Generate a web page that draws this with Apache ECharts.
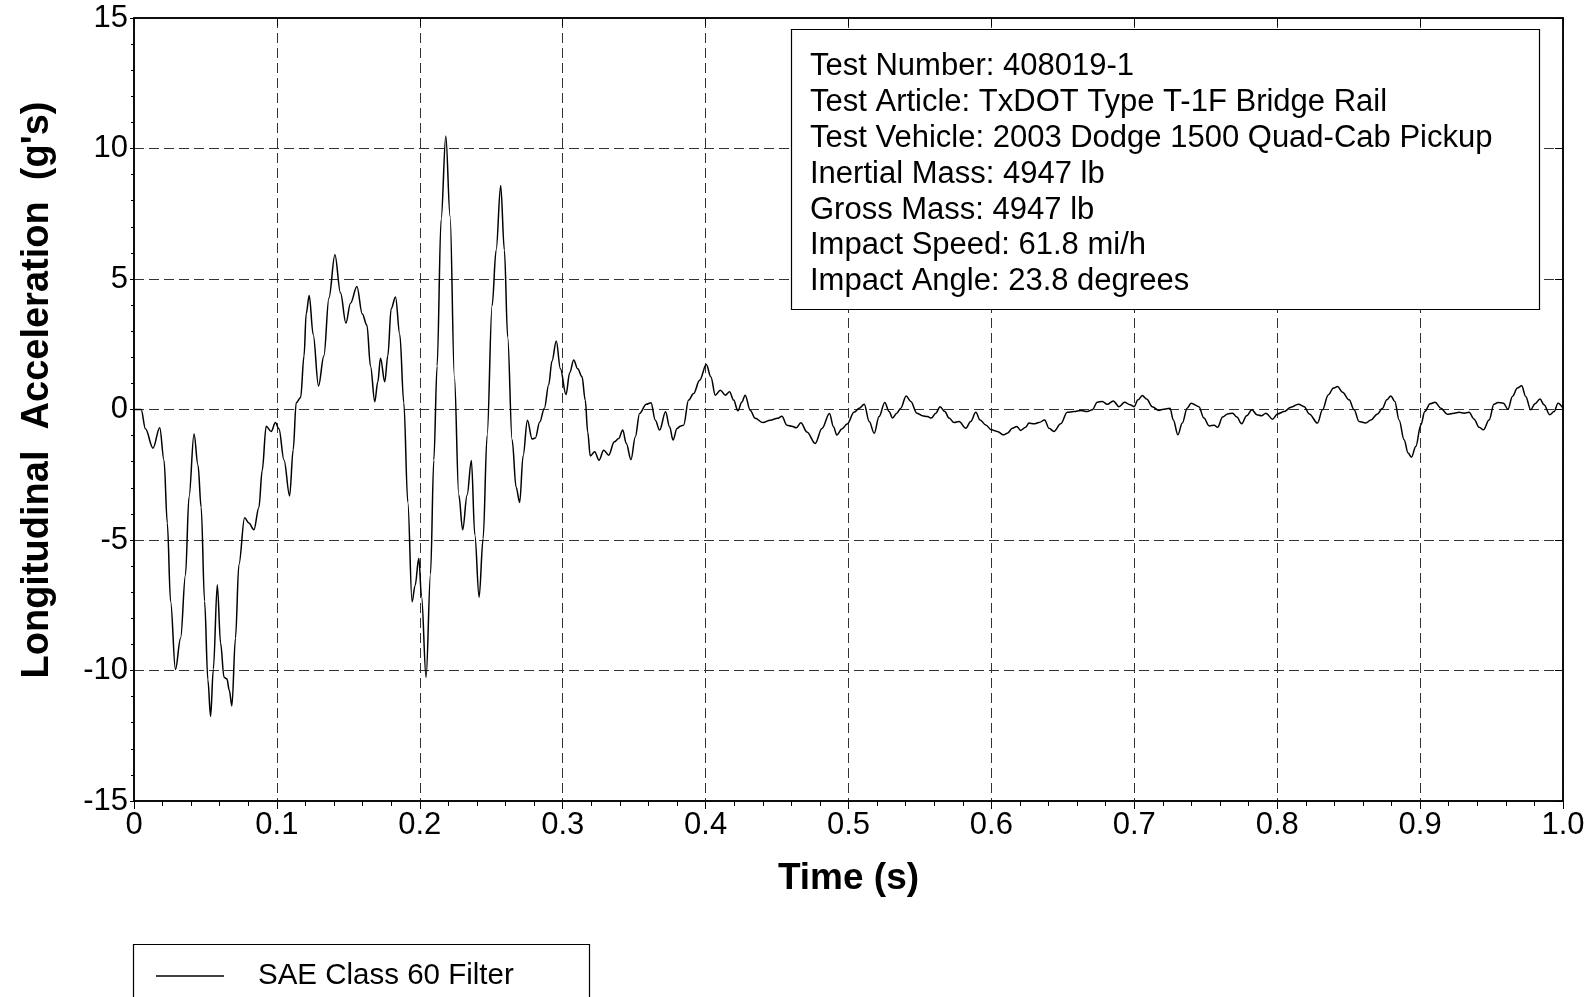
<!DOCTYPE html>
<html>
<head>
<meta charset="utf-8">
<script src="https://cdn.jsdelivr.net/npm/echarts@6/dist/echarts.min.js"></script>
<style>
html,body{margin:0;padding:0;background:#fff;}
#chart{width:1594px;height:997px;}
</style>
</head>
<body>
<div id="chart"></div>
<script>
// ---- data (time in s, longitudinal acceleration in g's) ----
var timeS = [
0,0.005,0.008,0.0133,0.018,0.021,0.0233,0.0256,0.029,0.0326,0.036,0.0385,0.042,0.0448,0.047,0.0494,0.0517,0.0536,0.0555,0.0583,
0.0606,0.063,0.065,0.0667,0.0685,0.071,0.0734,0.0774,0.0804,0.0839,0.0874,0.0897,0.0925,0.096,0.099,0.1014,0.105,0.1089,0.1114,0.1135,
0.1166,0.119,0.1205,0.1226,0.1254,0.1291,0.1329,0.1364,0.1406,0.1445,0.1483,0.1515,0.156,0.1597,0.163,0.1655,0.1685,0.1706,0.1725,0.1755,
0.1776,0.18,0.183,0.186,0.1888,0.1916,0.1946,0.1967,0.1993,0.2012,0.2044,0.2075,0.2098,0.2121,0.2149,0.2182,0.2212,0.2242,0.2273,0.23,
0.2331,0.2361,0.2385,0.2415,0.2443,0.2471,0.2506,0.2534,0.2566,0.2592,0.2615,0.2646,0.2674,0.2699,0.2723,0.2753,0.2786,0.2809,0.2839,0.2872,
0.2902,0.2925,0.2955,0.2984,0.3023,0.3049,0.3077,0.3105,0.3135,0.3158,0.3175,0.3193,0.3224,0.3254,0.3287,0.3322,0.3361,0.3392,0.342,0.3445,
0.3478,0.3508,0.3538,0.3585,0.3618,0.3648,0.3678,0.372,0.3748,0.3772,0.38,0.3823,0.3846,0.3881,0.3916,0.3958,0.4005,0.4037,0.4068,0.4103,
0.4138,0.4168,0.4196,0.4226,0.4254,0.4277,0.4312,0.4347,0.4401,0.4452,0.4503,0.4534,0.4569,0.4604,0.4634,0.4667,0.4709,0.4767,0.4814,0.4867,
0.4895,0.4918,0.4953,0.499,0.504,0.5075,0.511,0.5145,0.518,0.5214,0.5254,0.5284,0.5308,0.5338,0.5366,0.5403,0.5436,0.5478,0.5517,0.5552,
0.558,0.5611,0.5641,0.5674,0.5704,0.5739,0.5774,0.5821,0.5855,0.5891,0.5921,0.596,0.6,0.6042,0.6084,0.6112,0.6147,0.6177,0.6205,0.624,
0.6263,0.6298,0.6333,0.6373,0.6403,0.6438,0.6485,0.6531,0.6578,0.6625,0.6671,0.6706,0.6741,0.6776,0.6811,0.6853,0.6893,0.6932,0.697,0.6998,
0.7026,0.7056,0.7086,0.7126,0.7172,0.7203,0.725,0.7273,0.7305,0.7336,0.737,0.7398,0.7452,0.7487,0.7524,0.7559,0.7583,0.7618,0.7653,0.7688,
0.7718,0.7751,0.7786,0.7823,0.7858,0.789,0.7921,0.7967,0.8002,0.8049,0.8096,0.8149,0.8189,0.8224,0.8282,0.8317,0.8357,0.8394,0.8422,0.8457,
0.8503,0.8538,0.8573,0.862,0.8655,0.8702,0.8737,0.8767,0.8795,0.8823,0.8853,0.8888,0.8916,0.8939,0.897,0.9005,0.9033,0.907,0.9105,0.9145,
0.9191,0.9238,0.9273,0.9308,0.9343,0.9378,0.9413,0.9443,0.9483,0.9517,0.9545,0.9583,0.9615,0.9646,0.9681,0.9711,0.9739,0.9774,0.9804,0.9839,
0.9867,0.9907,0.9937,0.9965,1.0
];
var accelG = [
0,0,-0.74,-1.48,-0.7,-1.94,-4.35,-7.35,-9.96,-8.76,-6.35,-3.35,-0.94,-2.14,-3.75,-7.35,-10.36,-11.76,-9.96,-6.71,
-8.96,-10.26,-10.32,-10.76,-11.36,-8.76,-5.95,-4.15,-4.35,-4.61,-3.75,-2.34,-0.64,-0.84,-0.5,-0.74,-1.94,-3.31,-1.54,0.26,
0.46,2.06,3.67,4.37,2.87,0.9,2.06,4.27,5.93,4.47,3.31,4.07,4.71,3.67,3.23,1.66,0.3,1.06,1.96,1.06,
2.06,3.87,4.31,2.87,0.26,-3.55,-7.37,-6.75,-5.7,-7.15,-10.27,-6.3,-1.94,1.66,7.27,10.48,7.4,1.26,-3.28,-4.61,
-3.28,-1.95,-4.8,-7.19,-4.95,-1.0,3.98,6.1,8.58,6.1,2.77,-1.16,-2.98,-3.56,-1.77,-0.41,-1.13,-1.09,-0.48,0.05,
0.95,1.86,2.62,1.56,0.57,1.41,1.9,1.56,1.26,0.35,-0.86,-1.78,-1.62,-1.94,-1.56,-1.75,-1.24,-1.11,-0.79,-1.3,
-1.92,-1.05,-0.15,0.2,0.26,-0.41,-0.79,-0.09,-0.66,-1.17,-0.73,-0.64,-0.6,0.36,0.61,1.12,1.72,1.25,0.55,0.74,
0.55,0.68,0.36,-0.05,0.29,0.55,-0.03,-0.34,-0.5,-0.41,-0.34,-0.26,-0.6,-0.64,-0.7,-0.51,-0.86,-1.3,-0.73,-0.15,
-0.66,-0.98,-0.75,-0.56,-0.1,0.05,0.2,-0.46,-0.91,-0.27,0.27,-0.08,-0.33,-0.14,0.05,0.52,0.31,-0.14,-0.24,-0.27,
-0.33,-0.14,0.11,-0.08,-0.33,-0.5,-0.46,-0.72,-0.46,-0.11,-0.4,-0.59,-0.78,-0.84,-0.97,-0.91,-0.72,-0.65,-0.8,-0.68,
-0.52,-0.55,-0.5,-0.4,-0.72,-0.84,-0.55,-0.11,-0.08,-0.04,-0.08,-0.01,0.28,0.31,0.2,0.33,0.11,0.28,0.18,0.11,
0.37,0.54,0.4,0.11,-0.04,0.01,0.05,-0.4,-0.97,-0.52,0.05,0.24,0.11,-0.33,-0.63,-0.6,-0.68,-0.29,-0.17,-0.14,
-0.29,-0.55,-0.24,-0.01,-0.2,-0.24,-0.14,-0.37,-0.17,-0.08,0.09,0.2,0.11,-0.17,-0.52,-0.01,0.56,0.82,0.88,0.66,
0.37,-0.01,-0.46,-0.52,-0.4,-0.17,0.05,0.37,0.52,0.31,-0.4,-1.16,-1.67,-1.83,-1.42,-0.59,-0.08,0.22,0.28,0.05,
-0.18,-0.14,-0.11,-0.14,-0.11,-0.37,-0.68,-0.78,-0.4,0.2,0.27,0.24,0.01,0.5,0.82,0.91,0.5,-0.01,0.22,0.4,
0.18,-0.2,-0.08,0.24,0.05
];
var seriesName = 'SAE Class 60 Filter';
var xAxisTitle = 'Time (s)';
var yAxisTitle = "Longitudinal  Acceleration  (g's)";
var infoLines = [
  'Test Number: 408019-1',
  'Test Article: TxDOT Type T-1F Bridge Rail',
  'Test Vehicle: 2003 Dodge 1500 Quad-Cab Pickup',
  'Inertial Mass: 4947 lb',
  'Gross Mass: 4947 lb',
  'Impact Speed: 61.8 mi/h',
  'Impact Angle: 23.8 degrees'
];

var FONT = "'Liberation Sans', Arial, sans-serif";
var pts = timeS.map(function (t, i) { return [t, accelG[i]]; });

var chart = echarts.init(document.getElementById('chart'), null, {renderer: 'canvas'});
var gridDash = {color: '#333', width: 1, type: [10, 5]};

chart.setOption({
  animation: false,
  backgroundColor: '#fff',
  grid: {left: 134, right: 31, top: 18, bottom: 196, show: true, borderColor: '#000', borderWidth: 1.5, backgroundColor: 'transparent'},
  legend: {
    left: 156, top: 960, padding: 0,
    itemWidth: 68, itemHeight: 1.5,
    data: [{name: seriesName, icon: 'rect'}],
    itemStyle: {color: '#000', borderWidth: 0},
    textStyle: {fontFamily: FONT, fontSize: 29.5, color: '#000', lineHeight: 32, padding: [0, 0, 0, 29]}
  },
  xAxis: [{
    type: 'value', min: 0, max: 1, interval: 0.1,
    axisLine: {show: true, onZero: false, lineStyle: {color: '#000', width: 1.5}},
    axisTick: {show: true, inside: false, length: 8, lineStyle: {color: '#000', width: 1}},
    minorTick: {show: true, splitNumber: 5, length: 5, lineStyle: {color: '#000', width: 1}},
    axisLabel: {fontFamily: FONT, fontSize: 31, color: '#000', margin: 9, lineHeight: 31,
      formatter: function (v) { return v === 0 ? '0' : v.toFixed(1); }},
    splitLine: {show: true, lineStyle: gridDash},
    name: xAxisTitle, nameLocation: 'middle', nameGap: 59,
    nameTextStyle: {fontFamily: FONT, fontSize: 37, fontWeight: 'bold', color: '#000', lineHeight: 37}
  }, {
    type: 'value', min: 0, max: 1, interval: 0.1, position: 'top',
    axisLine: {show: true, onZero: false, lineStyle: {color: '#000', width: 1.5}},
    axisTick: {show: true, inside: true, length: 8, lineStyle: {color: '#000', width: 1}},
    axisLabel: {show: false}, splitLine: {show: false}
  }],
  yAxis: [{
    type: 'value', min: -15, max: 15, interval: 5,
    axisLine: {show: true, onZero: false, lineStyle: {color: '#000', width: 1.5}},
    axisTick: {show: true, inside: false, length: 4, lineStyle: {color: '#000', width: 1}},
    minorTick: {show: true, splitNumber: 5, length: 3, lineStyle: {color: '#000', width: 1}},
    axisLabel: {fontFamily: FONT, fontSize: 31, color: '#000', margin: 6},
    splitLine: {show: true, lineStyle: gridDash}
  }, {
    type: 'value', min: -15, max: 15, interval: 5, position: 'right',
    axisLine: {show: true, onZero: false, lineStyle: {color: '#000', width: 1.5}},
    axisTick: {show: true, inside: true, length: 8, lineStyle: {color: '#000', width: 1}},
    axisLabel: {show: false}, splitLine: {show: false}
  }],
  series: [{
    name: seriesName, type: 'line', data: pts,
    xAxisIndex: 0, yAxisIndex: 0,
    symbol: 'none', smooth: 0.35, smoothMonotone: 'x',
    lineStyle: {color: '#000', width: 1.5},
    itemStyle: {color: '#000'}, z: 5
  }],
  graphic: [
    {type: 'rect', z: 10, shape: {x: 791.5, y: 29.5, width: 748, height: 280},
     style: {fill: '#fff', stroke: '#000', lineWidth: 1.2}},
    {type: 'text', z: 11, x: 810, y: 49,
     style: {text: infoLines.join('\n'), fontFamily: FONT, fontSize: 31, lineHeight: 35.8, fill: '#000', align: 'left', verticalAlign: 'top'}},
    {type: 'rect', z: 10, shape: {x: 133.5, y: 944.5, width: 456, height: 70},
     style: {fill: 'none', stroke: '#000', lineWidth: 1.2}},
    {type: 'text', z: 11, x: 38, y: 390, rotation: Math.PI / 2,
     style: {text: yAxisTitle, fontFamily: FONT, fontSize: 38, fontWeight: 'bold', fill: '#000', align: 'center', verticalAlign: 'middle'}}
  ]
});
</script>
</body>
</html>
